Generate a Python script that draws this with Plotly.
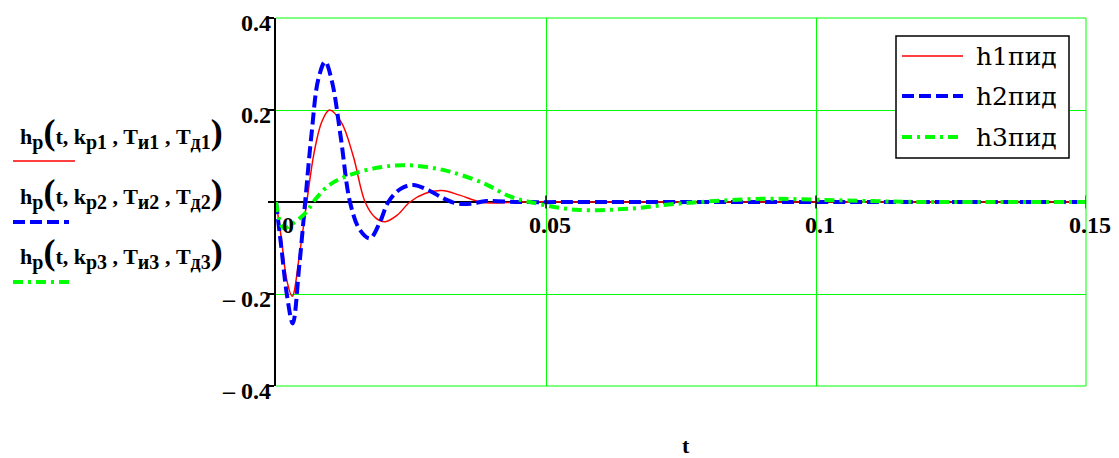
import plotly.graph_objects as go

# ---- data ----
t_h1 = [0, 0.0010, 0.0020, 0.0030, 0.0044, 0.0057, 0.0071, 0.0085, 0.0099, 0.0121, 0.0143,
        0.0165, 0.0184, 0.0202, 0.0225, 0.0248, 0.0277, 0.0307, 0.0340, 0.0378, 0.0410,
        0.0450, 0.0600, 0.0800, 0.1000, 0.1200, 0.1500]
h1 = [0, -0.08, -0.17, -0.205, -0.11, 0, 0.11, 0.175, 0.200, 0.173, 0.10,
      0, -0.034, -0.043, -0.028, 0, 0.019, 0.025, 0.015, 0, -0.002,
      0, 0, 0, 0, 0, 0]

t_h2 = [0, 0.0010, 0.0020, 0.0031, 0.0043, 0.0054, 0.0066, 0.0078, 0.0091, 0.0104, 0.0120,
        0.0137, 0.0155, 0.0174, 0.0192, 0.0208, 0.0230, 0.0254, 0.0285, 0.0310, 0.0334,
        0.0360, 0.0390, 0.0450, 0.0600, 0.0800, 0.1000, 0.1200, 0.1500]
h2 = [0, -0.10, -0.20, -0.264, -0.14, 0, 0.15, 0.265, 0.305, 0.26, 0.14,
      0, -0.06, -0.079, -0.045, 0, 0.028, 0.037, 0.024, 0.008, -0.003,
      -0.004, 0.002, 0, 0, 0, 0, 0, 0]

t_h3 = [0, 0.0014, 0.0032, 0.0057, 0.0069, 0.0100, 0.0140, 0.0190, 0.0233, 0.0280, 0.0322,
        0.0384, 0.0433, 0.0470, 0.0557, 0.0660, 0.0723, 0.0785, 0.0900, 0.1000, 0.1100,
        0.1200, 0.1350, 0.1500]
h3 = [0, -0.057, -0.046, -0.021, 0, 0.038, 0.060, 0.075, 0.080, 0.076, 0.066,
      0.041, 0.012, 0, -0.017, -0.014, -0.006, 0, 0.007, 0.005, 0.002,
      0, 0, 0]

series_names = ["h1пид", "h2пид", "h3пид"]
x_ticks = [0, 0.05, 0.1, 0.15]
x_tick_labels = ["0", "0.05", "0.1", "0.15"]
y_ticks = [-0.4, -0.2, 0.2, 0.4]
y_tick_labels = ["\u2013 0.4", "\u2013 0.2", "0.2", "0.4"]
row_labels = [
    ("p1", "и1", "д1"),
    ("p2", "и2", "д2"),
    ("p3", "и3", "д3"),
]

RED = "#ff0000"
BLUE = "#0000ff"
GREEN = "#00ff00"
SERIF = "Liberation Serif"
LEG_FONT = "DejaVu Serif"
styles = [(RED, 1.5, "solid"), (BLUE, 4, "12px,5px"), (GREEN, 4, "10px,5px,3px,5px")]


def px_x(px):
    return (px - 276) / 810


def px_y(py):
    return (386 - py) / 368


fig = go.Figure()
for tt, hh, name, (col, w, d) in zip([t_h1, t_h2, t_h3], [h1, h2, h3], series_names, styles):
    fig.add_trace(go.Scatter(x=tt, y=hh, mode="lines", name=name, showlegend=False,
                             line=dict(color=col, width=w, dash=d, shape="spline", smoothing=1)))

annotations = []
# x tick labels (placed under the zero line, as in the reference)
for v, lab in zip(x_ticks, x_tick_labels):
    annotations.append(dict(x=v, y=0, xref="x", yref="y", text="<b>%s</b>" % lab,
                            showarrow=False, xanchor="center", yanchor="middle",
                            xshift=12 if v == 0 else 4, yshift=-23,
                            font=dict(family=SERIF, size=24, color="black")))
# y tick labels
for v, lab in zip(y_ticks, y_tick_labels):
    annotations.append(dict(x=0, y=v, xref="paper", yref="y", text="<b>%s</b>" % lab,
                            showarrow=False, xanchor="right", yanchor="middle",
                            xshift=-3, yshift=-5,
                            font=dict(family=SERIF, size=24, color="black")))
# x axis title
annotations.append(dict(x=px_x(686), y=px_y(445), xref="paper", yref="paper",
                        text="<b>t</b>", showarrow=False, xanchor="center", yanchor="middle",
                        font=dict(family=SERIF, size=22, color="black")))
# y axis title rows
row_y = [133, 193, 253]
sub = "<sub><span style='font-size:20px'>%s</span></sub>"
big = "<span style='font-size:36px'>%s</span>"
for (kp, ti, td), py in zip(row_labels, row_y):
    txt = ("<b>h" + sub % "p" + big % "(" + "t, k" + sub % kp + " , T" + sub % ti
           + " , T" + sub % td + big % ")" + "</b>")
    annotations.append(dict(x=px_x(18), y=px_y(py), xref="paper", yref="paper",
                            text=txt, showarrow=False, xanchor="left", yanchor="middle",
                            font=dict(family=SERIF, size=22, color="black")))

shapes = []
# tick marks on the zero line
for v in x_ticks[1:]:
    shapes.append(dict(type="line", xref="x", yref="y", x0=v, x1=v, y0=-0.014, y1=0.014,
                       line=dict(color="black", width=1.5)))
# green grid lines on the frame edges (top, bottom, right)
for x0, x1, y0, y1 in [(0, 1, 1, 1), (0, 1, 0, 0), (1, 1, 0, 1)]:
    shapes.append(dict(type="line", xref="paper", yref="paper", x0=x0, x1=x1, y0=y0, y1=y1,
                       line=dict(color=GREEN, width=1)))
# line samples of the y title
for (col, w, d), py, x1 in zip(styles, [161, 222, 282], [75, 69, 73]):
    shapes.append(dict(type="line", xref="paper", yref="paper",
                       x0=px_x(13), x1=px_x(x1), y0=px_y(py), y1=px_y(py),
                       line=dict(color=col, width=w, dash=d)))

# legend box (drawn by hand so that a serif font is used)
shapes.append(dict(type="rect", xref="paper", yref="paper",
                   x0=px_x(896), x1=px_x(1069), y0=px_y(158), y1=px_y(36),
                   line=dict(color="black", width=1.5), fillcolor="white", layer="above"))
for (col, w, d), name, py in zip(styles, series_names, [56, 96, 137]):
    shapes.append(dict(type="line", xref="paper", yref="paper",
                       x0=px_x(902), x1=px_x(963), y0=px_y(py), y1=px_y(py),
                       line=dict(color=col, width=w, dash=d), layer="above"))
    annotations.append(dict(x=px_x(974), y=px_y(py), xref="paper", yref="paper",
                            text=name, showarrow=False, xanchor="left", yanchor="middle",
                            font=dict(family=LEG_FONT, size=25, color="black")))

fig.update_layout(
    width=1119, height=458,
    margin=dict(l=276, r=33, t=18, b=72),
    paper_bgcolor="white", plot_bgcolor="white",
    font=dict(family=SERIF, color="black"),
    xaxis=dict(range=[0, 0.15], tickvals=[0.05, 0.1, 0.15], showgrid=True, gridcolor=GREEN,
               gridwidth=1, showticklabels=False, zeroline=False, showline=False, ticks=""),
    yaxis=dict(range=[-0.4, 0.4], tickvals=[-0.4, -0.2, 0, 0.2, 0.4], showgrid=True,
               gridcolor=GREEN, gridwidth=1, showticklabels=False, ticks="outside", ticklen=6,
               tickcolor="black", tickwidth=1.5, showline=True, linecolor="black", linewidth=1.5,
               zeroline=True, zerolinecolor="black", zerolinewidth=1.5),
    annotations=annotations,
    shapes=shapes,
    showlegend=False,
)

fig.write_html("out.html")
